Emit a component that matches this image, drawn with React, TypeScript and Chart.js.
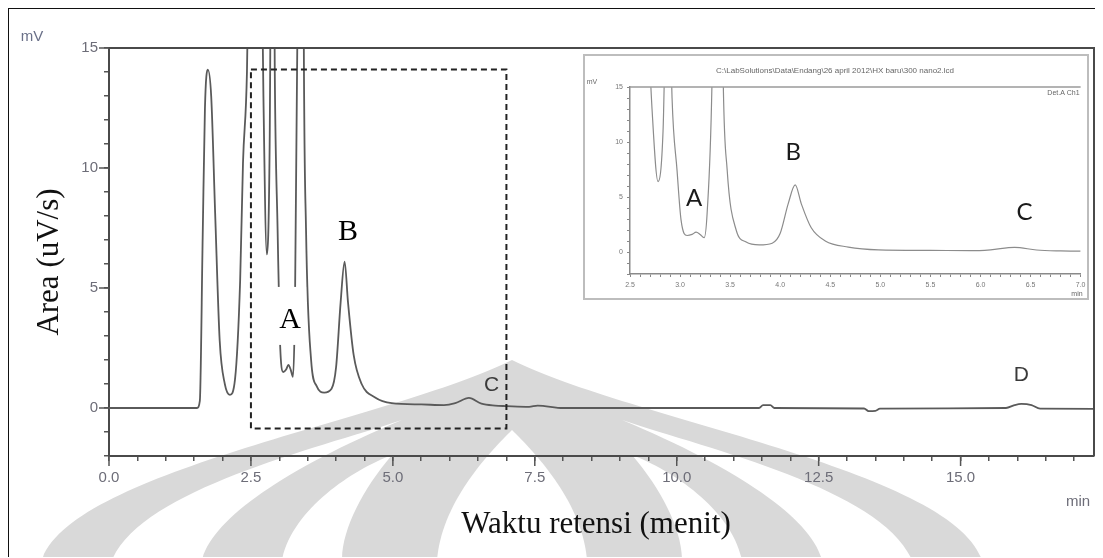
import React, { useEffect, useRef } from "react";
import { Chart, registerables } from "chart.js";

Chart.register(...registerables);

// Chromatogram trace: retention time (min) and detector signal (mV)
const RETENTION_TIME = [
  0, 1.0, 1.55, 1.6, 1.65, 1.69, 1.74, 1.8, 1.87, 1.95, 2.04, 2.13, 2.22, 2.31, 2.36, 2.43,
  2.5, 2.58, 2.66, 2.72, 2.78, 2.83, 2.88, 2.92, 2.97, 3.01, 3.07, 3.12, 3.16, 3.2, 3.24,
  3.27, 3.32, 3.38, 3.43, 3.47, 3.56, 3.66, 3.79, 3.92, 4.0, 4.08, 4.15, 4.21, 4.31, 4.45,
  4.68, 4.98, 5.5, 5.9, 6.1, 6.34, 6.56, 6.8, 7.0, 7.4, 7.55, 8.0, 11.45, 11.52, 11.65,
  11.72, 13.3, 13.38, 13.5, 13.58, 15.8, 15.95, 16.07, 16.25, 16.4, 17.4,
];
const SIGNAL_MV = [
  0, 0, 0, 0.3, 7.1, 12.5, 14.1, 13.0, 8.1, 2.8, 1.0, 0.55, 1.2, 5.3, 10.2, 14.0,
  25, 40, 25, 13, 6.4, 11, 30, 14, 7.4, 2.9, 1.5, 1.6, 1.8, 1.6, 1.3,
  3.5, 16, 60, 16, 7.5, 2.0, 0.9, 0.64, 0.8, 1.7, 4.4, 6.1, 4.4, 2.2, 1.0,
  0.45, 0.2, 0.15, 0.12, 0.2, 0.42, 0.18, 0.1, 0.08, 0.05, 0.1, 0, 0, 0.12, 0.12,
  0, -0.02, -0.13, -0.12, -0.03, 0, 0.12, 0.17, 0.12, -0.03, -0.04,
];

const MAIN_X_TICK_LABELS = ["0.0", "2.5", "5.0", "7.5", "10.0", "12.5", "15.0"];
const MAIN_Y_TICK_LABELS = ["0", "5", "10", "15"];
const INSET_X_TICK_LABELS = ["2.5", "3.0", "3.5", "4.0", "4.5", "5.0", "5.5", "6.0", "6.5", "7.0"];
const INSET_Y_TICK_LABELS = ["0", "5", "10", "15"];

const PEAK_NAMES = ["A", "B", "C", "D"];
// where each peak name sits, in (min, mV)
const MAIN_PEAK_ANCHORS = [
  [3.19, 3.67],
  [4.21, 7.33],
  [6.74, 0.96],
  [16.07, 1.38],
];
const INSET_PEAK_ANCHORS = [
  [3.14, 4.9],
  [4.13, 9.1],
  [6.44, 3.6],
];

// enlarged window shown in the inset
const ZOOM_WINDOW_MIN = [2.5, 7.0];
const ZOOM_WINDOW_MV = [-0.85, 14.1];

const INSET_TITLE = "C:\\LabSolutions\\Data\\Endang\\26 april 2012\\HX baru\\300 nano2.lcd";

const TICK_GRAY = "#6d6d78";
const SANS = "'Liberation Sans', Arial, sans-serif";
const SERIF = "'Liberation Serif', 'Times New Roman', serif";

const points = () => RETENTION_TIME.map((t, i) => ({ x: t, y: SIGNAL_MV[i] }));

const isMultiple = (v: number, step: number) =>
  Math.abs(v / step - Math.round(v / step)) < 1e-6;

// faint emblem behind the lower half of the figure
function drawEmblem(ctx: CanvasRenderingContext2D) {
  const g = "#d9d9d9";
  const shape = (fill: string, path: (p: Path2D) => void) => {
    const p = new Path2D();
    path(p);
    ctx.fillStyle = fill;
    ctx.fill(p);
  };
  const cx = 512;
  // outer bulb
  shape(g, (p) => {
    p.moveTo(cx - 470, 560);
    p.bezierCurveTo(cx - 440, 470, cx - 120, 420, cx, 360);
    p.bezierCurveTo(cx + 120, 420, cx + 440, 470, cx + 470, 560);
    p.closePath();
  });
  // white gaps
  shape("#fff", (p) => {
    p.moveTo(cx - 400, 560);
    p.bezierCurveTo(cx - 370, 490, cx - 200, 450, cx - 110, 420);
    p.bezierCurveTo(cx - 230, 470, cx - 300, 520, cx - 310, 560);
    p.closePath();
  });
  shape("#fff", (p) => {
    p.moveTo(cx + 400, 560);
    p.bezierCurveTo(cx + 370, 490, cx + 200, 450, cx + 110, 420);
    p.bezierCurveTo(cx + 230, 470, cx + 300, 520, cx + 310, 560);
    p.closePath();
  });
  shape("#fff", (p) => {
    p.moveTo(cx - 75, 560);
    p.bezierCurveTo(cx - 70, 500, cx - 20, 450, cx, 430);
    p.bezierCurveTo(cx + 20, 450, cx + 70, 500, cx + 75, 560);
    p.closePath();
  });
  shape("#fff", (p) => {
    p.moveTo(cx - 230, 560);
    p.bezierCurveTo(cx - 220, 510, cx - 160, 470, cx - 120, 455);
    p.bezierCurveTo(cx - 150, 490, cx - 170, 530, cx - 170, 560);
    p.closePath();
  });
  shape("#fff", (p) => {
    p.moveTo(cx + 230, 560);
    p.bezierCurveTo(cx + 220, 510, cx + 160, 470, cx + 120, 455);
    p.bezierCurveTo(cx + 150, 490, cx + 170, 530, cx + 170, 560);
    p.closePath();
  });
}

const mainDecor = {
  id: "mainDecor",
  beforeDraw(chart: any) {
    const { ctx } = chart;
    ctx.save();
    ctx.fillStyle = "#fff";
    ctx.fillRect(0, 0, chart.width, chart.height);
    ctx.translate(-9, -9);
    drawEmblem(ctx);
    ctx.restore();
  },
  afterDatasetsDraw(chart: any) {
    const { ctx, chartArea: a } = chart;
    const xs = chart.scales.x;
    const ys = chart.scales.y;
    ctx.save();
    // plot frame (top and right)
    ctx.strokeStyle = "#4a4a4a";
    ctx.lineWidth = 2;
    ctx.beginPath();
    ctx.moveTo(a.left, a.top);
    ctx.lineTo(a.right, a.top);
    ctx.lineTo(a.right, a.bottom);
    ctx.stroke();
    // long marks at the labelled ticks
    ctx.lineWidth = 1.5;
    ctx.strokeStyle = "#555";
    xs.ticks.forEach((t: any) => {
      if (!isMultiple(t.value, 2.5)) return;
      const x = xs.getPixelForValue(t.value);
      ctx.beginPath();
      ctx.moveTo(x, a.bottom);
      ctx.lineTo(x, a.bottom + 10);
      ctx.stroke();
    });
    ys.ticks.forEach((t: any) => {
      if (!isMultiple(t.value, 5)) return;
      const y = ys.getPixelForValue(t.value);
      ctx.beginPath();
      ctx.moveTo(a.left, y);
      ctx.lineTo(a.left - 10, y);
      ctx.stroke();
    });
    // zoom window
    const x0 = xs.getPixelForValue(ZOOM_WINDOW_MIN[0]);
    const x1 = xs.getPixelForValue(ZOOM_WINDOW_MIN[1]);
    const y0 = ys.getPixelForValue(ZOOM_WINDOW_MV[1]);
    const y1 = ys.getPixelForValue(ZOOM_WINDOW_MV[0]);
    ctx.setLineDash([6, 4]);
    ctx.strokeStyle = "#222";
    ctx.lineWidth = 2;
    ctx.strokeRect(x0, y0, x1 - x0, y1 - y0);
    ctx.setLineDash([]);
    // peak names
    PEAK_NAMES.forEach((name, i) => {
      const [t, v] = MAIN_PEAK_ANCHORS[i];
      const px = xs.getPixelForValue(t);
      const py = ys.getPixelForValue(v);
      ctx.textAlign = "center";
      ctx.textBaseline = "middle";
      if (i < 2) {
        if (i === 0) {
          ctx.fillStyle = "#fff";
          ctx.fillRect(px - 15, py - 33, 31, 58);
        }
        ctx.fillStyle = "#000";
        ctx.font = `30px ${SERIF}`;
      } else {
        ctx.fillStyle = "#3a3a3a";
        ctx.font = `21px ${SANS}`;
      }
      ctx.fillText(name, px, py);
    });
    // units and axis titles
    ctx.fillStyle = "#6a7088";
    ctx.font = `15px ${SANS}`;
    ctx.textAlign = "center";
    ctx.fillText("mV", 32 - 9, 37 - 9);
    ctx.fillStyle = TICK_GRAY;
    ctx.fillText("min", 1078 - 9, 502 - 9);
    ctx.fillStyle = "#111";
    ctx.font = `31px ${SERIF}`;
    ctx.fillText("Waktu retensi (menit)", 596 - 9, 525 - 9);
    ctx.save();
    ctx.translate(50 - 9, 262 - 9);
    ctx.rotate(-Math.PI / 2);
    ctx.fillText("Area (uV/s)", 0, 0);
    ctx.restore();
    ctx.restore();
  },
};

const insetDecor = {
  id: "insetDecor",
  beforeDraw(chart: any) {
    const { ctx } = chart;
    ctx.save();
    ctx.fillStyle = "#fff";
    ctx.fillRect(0, 0, chart.width, chart.height);
    ctx.strokeStyle = "#bdbdbd";
    ctx.lineWidth = 2;
    ctx.strokeRect(1, 1, chart.width - 2, chart.height - 2);
    ctx.restore();
  },
  afterDatasetsDraw(chart: any) {
    const { ctx, chartArea: a } = chart;
    const xs = chart.scales.x;
    const ys = chart.scales.y;
    ctx.save();
    ctx.strokeStyle = "#9a9a9a";
    ctx.lineWidth = 1.5;
    ctx.beginPath();
    ctx.moveTo(a.left, a.top);
    ctx.lineTo(a.right, a.top);
    ctx.stroke();
    ctx.fillStyle = "#666";
    ctx.font = `8px ${SANS}`;
    ctx.textAlign = "center";
    ctx.textBaseline = "middle";
    ctx.fillText(INSET_TITLE, 252, 17);
    ctx.font = `7px ${SANS}`;
    ctx.fillText("mV", 9, 28);
    ctx.fillText("min", 494, 240);
    ctx.textAlign = "right";
    ctx.fillText("Det.A Ch1", a.right - 1, 39);
    ctx.textAlign = "center";
    ctx.fillStyle = "#1a1a1a";
    ctx.font = `24px Lato, ${SANS}`;
    INSET_PEAK_ANCHORS.forEach(([t, v], i) => {
      ctx.fillText(PEAK_NAMES[i], xs.getPixelForValue(t), ys.getPixelForValue(v));
    });
    ctx.restore();
  },
};

export default function App() {
  const mainRef = useRef<HTMLCanvasElement>(null);
  const insetRef = useRef<HTMLCanvasElement>(null);

  useEffect(() => {
    const main = new Chart(mainRef.current!, {
      type: "line",
      data: {
        datasets: [
          {
            data: points(),
            borderColor: "#5a5a5a",
            borderWidth: 1.8,
            pointRadius: 0,
            cubicInterpolationMode: "monotone",
          },
        ],
      },
      options: {
        animation: false,
        responsive: false,
        devicePixelRatio: 1,
        parsing: false,
        layout: { padding: { top: 39, right: 9, left: 0, bottom: 0 } },
        plugins: { legend: { display: false }, tooltip: { enabled: false } },
        scales: {
          x: {
            type: "linear",
            min: 0,
            max: 17.35,
            afterFit: (s: any) => {
              s.height = 102;
            },
            ticks: {
              stepSize: 0.5,
              includeBounds: false,
              autoSkip: false,
              maxRotation: 0,
              padding: 7.5,
              color: TICK_GRAY,
              font: { family: SANS, size: 15 },
              callback: (v: any) =>
                isMultiple(Number(v), 2.5) ? MAIN_X_TICK_LABELS[Math.round(Number(v) / 2.5)] : "",
            },
            grid: { drawOnChartArea: false, tickLength: 5, color: "#555", lineWidth: 1.5 },
            border: { color: "#4a4a4a", width: 2 },
          },
          y: {
            type: "linear",
            min: -2,
            max: 15,
            afterFit: (s: any) => {
              s.width = 100;
            },
            ticks: {
              stepSize: 1,
              includeBounds: false,
              autoSkip: false,
              padding: 6,
              color: TICK_GRAY,
              font: { family: SANS, size: 15 },
              callback: (v: any) =>
                isMultiple(Number(v), 5) && Number(v) >= 0
                  ? MAIN_Y_TICK_LABELS[Math.round(Number(v) / 5)]
                  : "",
            },
            grid: { drawOnChartArea: false, tickLength: 5, color: "#555", lineWidth: 1.5 },
            border: { color: "#4a4a4a", width: 2 },
          },
        },
      },
      plugins: [mainDecor],
    } as any);

    const inset = new Chart(insetRef.current!, {
      type: "line",
      data: {
        datasets: [
          {
            data: points(),
            borderColor: "#8c8c8c",
            borderWidth: 1.2,
            pointRadius: 0,
            cubicInterpolationMode: "monotone",
          },
        ],
      },
      options: {
        animation: false,
        responsive: false,
        devicePixelRatio: 1,
        parsing: false,
        layout: { padding: { top: 33, right: 5, left: 0, bottom: 0 } },
        plugins: { legend: { display: false }, tooltip: { enabled: false } },
        scales: {
          x: {
            type: "linear",
            min: ZOOM_WINDOW_MIN[0],
            max: ZOOM_WINDOW_MIN[1],
            afterFit: (s: any) => {
              s.height = 26;
            },
            ticks: {
              stepSize: 0.1,
              includeBounds: false,
              autoSkip: false,
              maxRotation: 0,
              padding: 3.5,
              color: "#777",
              font: { family: SANS, size: 7 },
              callback: (v: any) =>
                isMultiple(Number(v), 0.5)
                  ? INSET_X_TICK_LABELS[Math.round((Number(v) - 2.5) / 0.5)]
                  : "",
            },
            grid: { drawOnChartArea: false, tickLength: 3, color: "#888", lineWidth: 1 },
            border: { color: "#8a8a8a", width: 1.5 },
          },
          y: {
            type: "linear",
            min: -2,
            max: 15,
            afterFit: (s: any) => {
              s.width = 47;
            },
            ticks: {
              stepSize: 1,
              includeBounds: false,
              autoSkip: false,
              padding: 4,
              color: "#777",
              font: { family: SANS, size: 7 },
              callback: (v: any) =>
                isMultiple(Number(v), 5) && Number(v) >= 0
                  ? INSET_Y_TICK_LABELS[Math.round(Number(v) / 5)]
                  : "",
            },
            grid: { drawOnChartArea: false, tickLength: 3, color: "#888", lineWidth: 1 },
            border: { color: "#8a8a8a", width: 1.5 },
          },
        },
      },
      plugins: [insetDecor],
    } as any);

    return () => {
      main.destroy();
      inset.destroy();
    };
  }, []);

  return (
    <div
      style={{
        position: "relative",
        width: 1095,
        height: 550,
        marginTop: -1,
        marginLeft: -1,
        boxSizing: "border-box",
        borderTop: "2px solid #111",
        borderLeft: "2px solid #111",
        overflow: "hidden",
      }}
    >
      <canvas
        ref={mainRef}
        width={1094}
        height={549}
        style={{ position: "absolute", left: 0, top: 0, width: 1094, height: 549 }}
      />
      <canvas
        ref={insetRef}
        width={506}
        height={246}
        style={{ position: "absolute", left: 574, top: 45, width: 506, height: 246 }}
      />
    </div>
  );
}
